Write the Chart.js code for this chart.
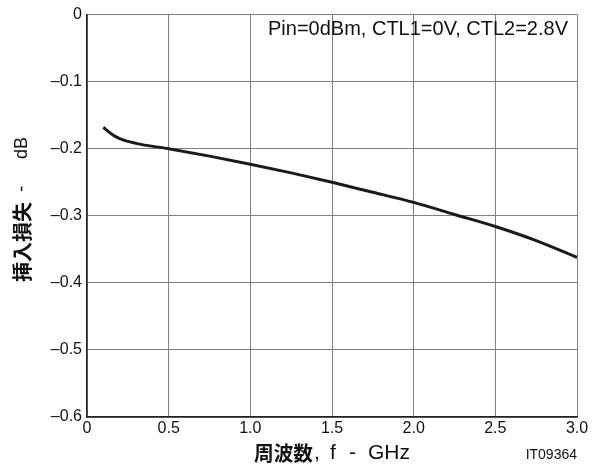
<!DOCTYPE html>
<html>
<head>
<meta charset="utf-8">
<script src="https://cdn.jsdelivr.net/npm/chart.js@4.4.1/dist/chart.umd.min.js"></script>
<style>
    html, body { margin: 0; padding: 0; background: #fff; }
    #wrap { width: 597px; height: 468px; }
</style>
</head>
<body>
<div id="wrap"><canvas id="chart" width="597" height="468"></canvas></div>
<script>
// ============================================================
// DATA
// ============================================================
var freqGHz = [0.1, 0.15, 0.2, 0.3, 0.5, 0.75, 1.0, 1.25, 1.5, 1.75, 2.0, 2.25, 2.5, 2.75, 3.0];
var lossDb  = [-0.168, -0.178, -0.185, -0.192, -0.200, -0.211, -0.223, -0.236, -0.250, -0.265, -0.280, -0.298, -0.316, -0.337, -0.362];
var xTicks  = [0, 0.5, 1.0, 1.5, 2.0, 2.5, 3.0];
var yTicks  = [0, -0.1, -0.2, -0.3, -0.4, -0.5, -0.6];

var FONT = '"Liberation Sans", Arial, sans-serif';
var CJK = '"Noto Sans CJK JP", "Liberation Sans", sans-serif';

// ============================================================
// TEXT PLUGIN — axis titles with mixed bold, note, part number
// ============================================================
var textPlugin = {
    id: 'textPlugin',
    afterDraw: function (chart) {
        var ctx = chart.ctx;
        var area = chart.chartArea;
        ctx.save();
        ctx.fillStyle = '#111';
        ctx.textBaseline = 'middle';

        // condition note, top right
        ctx.font = '20px ' + FONT;
        ctx.textAlign = 'right';
        ctx.fillText('Pin=0dBm, CTL1=0V, CTL2=2.8V', area.right - 9, 29, 305);

        // x axis title: bold kanji + plain latin
        ctx.textAlign = 'left';
        ctx.font = 'bold 20px ' + CJK;
        ctx.fillText('周波数', 254, 453, 59);
        ctx.font = '21px ' + FONT;
        ctx.fillText(',', 314, 453);
        ctx.fillText('f', 330, 453);
        ctx.fillText('-', 349, 453);
        ctx.fillText('GHz', 368, 453, 42);

        // part number
        ctx.font = '14px ' + FONT;
        ctx.textAlign = 'right';
        ctx.fillText('IT09364', area.right, 455);

        // y axis title (rotated, reads bottom to top)
        ctx.translate(22, 0);
        ctx.rotate(-Math.PI / 2);
        ctx.textAlign = 'left';
        ctx.font = 'bold 20px ' + CJK;
        ctx.fillText('挿入損失', -282, 0, 82);
        ctx.font = '19px ' + FONT;
        ctx.fillText('-', -192, 0);
        ctx.fillText('dB', -159, 0, 22);
        ctx.restore();
    }
};

var points = freqGHz.map(function (f, i) { return { x: f, y: lossDb[i] }; });

new Chart(document.getElementById('chart'), {
    type: 'line',
    data: {
        datasets: [{
            data: points,
            borderColor: '#1a1a1a',
            borderWidth: 3,
            pointRadius: 0,
            fill: false,
            cubicInterpolationMode: 'monotone'
        }]
    },
    options: {
        responsive: false,
        animation: false,
        layout: { padding: { top: 10, right: 20, left: 0, bottom: 0 } },
        plugins: {
            legend: { display: false },
            tooltip: { enabled: false }
        },
        scales: {
            x: {
                type: 'linear',
                min: 0,
                max: 3,
                afterBuildTicks: function (s) { s.ticks = xTicks.map(function (v) { return { value: v }; }); },
                afterFit: function (s) { s.height = 51; },
                grid: { color: '#808080', lineWidth: 1, drawTicks: false },
                border: { color: '#222', width: 1.5 },
                ticks: {
                    padding: 2,
                    color: '#111',
                    font: { size: 16, family: FONT },
                    callback: function (v) { return v === 0 ? '0' : v.toFixed(1); }
                }
            },
            y: {
                type: 'linear',
                min: -0.6,
                max: 0,
                afterBuildTicks: function (s) { s.ticks = yTicks.map(function (v) { return { value: v }; }); },
                afterFit: function (s) { s.width = 87; },
                grid: { color: '#808080', lineWidth: 1, drawTicks: false },
                border: { color: '#222', width: 1.5 },
                ticks: {
                    padding: 5,
                    color: '#111',
                    font: { size: 16, family: FONT },
                    callback: function (v) { return v === 0 ? '0' : '\u2013' + Math.abs(v).toFixed(1); }
                }
            }
        }
    },
    plugins: [textPlugin]
});
</script>
</body>
</html>
